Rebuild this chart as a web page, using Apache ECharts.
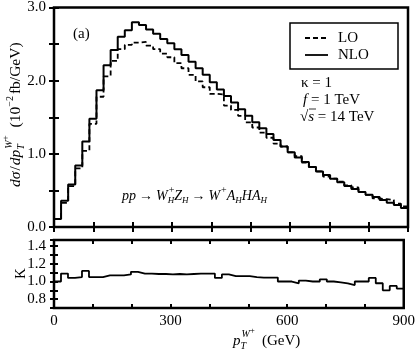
<!DOCTYPE html>
<html>
<head>
<meta charset="utf-8">
<script src="https://cdn.jsdelivr.net/npm/echarts@6/dist/echarts.min.js"></script>
<style>
  html, body { margin: 0; padding: 0; background: #fff; }
  #chart { width: 418px; height: 356px; }
</style>
</head>
<body>
<div id="chart"></div>
<script>
// histogram bins of 18 GeV from 0 to 900 GeV
const BIN_GEV = 18;

// d sigma / d pT (10^-2 fb/GeV)
const NLO = [
    0.11, 0.36, 0.58, 0.84, 1.17, 1.48, 1.87, 2.21, 2.42, 2.60,
    2.69, 2.80, 2.76, 2.70, 2.64, 2.57, 2.51, 2.43, 2.35, 2.26,
    2.17, 2.08, 1.98, 1.88, 1.79, 1.70, 1.61, 1.52, 1.43, 1.35,
    1.27, 1.19, 1.10, 1.02, 0.95, 0.89, 0.82, 0.76, 0.71, 0.66,
    0.61, 0.56, 0.52, 0.48, 0.44, 0.41, 0.37, 0.33, 0.30, 0.26,
];
const LO = [
    0.11, 0.33, 0.56, 0.80, 1.04, 1.41, 1.78, 2.06, 2.27, 2.43,
    2.49, 2.52, 2.53, 2.48, 2.43, 2.37, 2.32, 2.24, 2.17, 2.08,
    1.99, 1.91, 1.82, 1.81, 1.66, 1.60, 1.52, 1.43, 1.36, 1.29,
    1.22, 1.14, 1.10, 1.02, 0.97, 0.88, 0.82, 0.76, 0.69, 0.66,
    0.62, 0.57, 0.54, 0.48, 0.44, 0.39, 0.38, 0.37, 0.32, 0.28,
];
// K factor panel
const K = [
    1.00, 1.09, 1.04, 1.05, 1.12, 1.05, 1.05, 1.07, 1.07, 1.07,
    1.08, 1.11, 1.09, 1.09, 1.085, 1.085, 1.08, 1.085, 1.08, 1.085,
    1.09, 1.09, 1.09, 1.04, 1.08, 1.06, 1.06, 1.06, 1.05, 1.045,
    1.045, 1.045, 1.00, 1.00, 0.98, 1.01, 1.00, 1.00, 1.025, 1.00,
    0.99, 0.98, 0.96, 1.00, 1.00, 1.04, 0.98, 0.90, 0.95, 0.92,
];

const X_LABELS = [0, 300, 600, 900];
const Y_LABELS = [0, 1, 2, 3];
const K_LABELS = [0.8, 1.0, 1.2, 1.4];
const LEGEND = ["LO", "NLO"];

const SERIF = '"Liberation Serif", "DejaVu Serif", serif';

// bin edges -> step points, last edge repeats the last value
function hist(vals) {
    const pts = vals.map((v, i) => [i * BIN_GEV, v]);
    pts.push([vals.length * BIN_GEV, vals[vals.length - 1]]);
    return pts;
}

// text pieces laid out along a baseline (sub/superscripts)
const _ctx = document.createElement("canvas").getContext("2d");
function font_of(size, italic) {
    return (italic ? "italic " : "") + size + "px " + SERIF;
}
function run(parts, x, y, rotation, base) {
    let cx = 0;
    const children = [];
    for (const p of parts) {
        if (p.gap) { cx += p.gap; continue; }
        const size = p.size || base || 15;
        children.push({
            type: "text",
            x: cx + (p.dx || 0),
            y: p.dy || 0,
            style: {
                text: p.t,
                font: font_of(size, p.it),
                fill: "#000",
                align: "left",
                verticalAlign: "middle",
            },
        });
        _ctx.font = font_of(size, p.it);
        if (!p.keep) cx += _ctx.measureText(p.t).width + (p.dx || 0);
    }
    return { type: "group", x, y, rotation: rotation || 0, children };
}

const axis_font = { fontFamily: SERIF, fontSize: 15, color: "#000" };
const tick = (len) => ({ inside: true, length: len, lineStyle: { color: "#000", width: 2 } });

function x_axis(grid, pos, labels) {
    return {
        type: "value", gridIndex: grid, position: pos, min: 0, max: 900, interval: 100,
        axisLine: { show: false }, splitLine: { show: false },
        axisTick: tick(grid === 0 ? 5 : 4),
        axisLabel: labels
            ? { ...axis_font, margin: 6, formatter: (v) => (X_LABELS.includes(v) ? String(v) : "") }
            : { show: false },
    };
}

// legend box drawn by hand: dashed LO, solid NLO
function legend_box(x, y) {
    const items = [];
    items.push({
        type: "rect", shape: { x, y, width: 108, height: 46 },
        style: { fill: "#fff", stroke: "#000", lineWidth: 1.5 }, z: 10,
    });
    LEGEND.forEach((name, i) => {
        const ly = y + 15 + i * 17;
        items.push({
            type: "line", shape: { x1: x + 15, y1: ly, x2: x + 38, y2: ly }, z: 11,
            style: { stroke: "#000", lineWidth: 1.8, lineDash: i === 0 ? [5, 3] : null },
        });
        items.push({
            type: "text", x: x + 48, y: ly, z: 11,
            style: { text: name, font: font_of(15), fill: "#000", verticalAlign: "middle" },
        });
    });
    return items;
}

const chart = echarts.init(document.getElementById("chart"), null, { renderer: "canvas" });

chart.setOption({
    animation: false,
    backgroundColor: "#fff",
    grid: [
        { left: 54, right: 10, top: 4, height: 223, show: true, borderColor: "#000", borderWidth: 2.5 },
        { left: 54, right: 10, top: 240, height: 68, show: true, borderColor: "#000", borderWidth: 2.5 },
    ],
    xAxis: [x_axis(0, "bottom", false), x_axis(0, "top", false), x_axis(1, "bottom", true), x_axis(1, "top", false)],
    yAxis: [
        {
            type: "value", gridIndex: 0, position: "left", min: 0, max: 3, interval: 0.5,
            axisLine: { show: false }, splitLine: { show: false }, axisTick: tick(5),
            axisLabel: { ...axis_font, margin: 8, formatter: (v) => (Y_LABELS.includes(v) ? v.toFixed(1) : "") },
        },
        {
            type: "value", gridIndex: 0, position: "right", min: 0, max: 3, interval: 0.5,
            axisLine: { show: false }, splitLine: { show: false }, axisTick: tick(5), axisLabel: { show: false },
        },
        {
            type: "value", gridIndex: 1, position: "left", min: 0.7, max: 1.47, interval: 0.1,
            axisLine: { show: false }, splitLine: { show: false }, axisTick: tick(4),
            axisLabel: {
                ...axis_font, margin: 8,
                formatter: (v) => {
                    const r = Math.round(v * 10) / 10;
                    return K_LABELS.some((k) => Math.abs(k - r) < 1e-6) && Math.abs(v - r) < 1e-6 ? r.toFixed(1) : "";
                },
            },
        },
        {
            type: "value", gridIndex: 1, position: "right", min: 0.7, max: 1.47, interval: 0.1,
            axisLine: { show: false }, splitLine: { show: false }, axisTick: tick(4), axisLabel: { show: false },
        },
    ],
    series: [
        {
            name: "LO", type: "line", step: "end", xAxisIndex: 0, yAxisIndex: 0,
            data: hist(LO), showSymbol: false, symbol: "none", color: "#000",
            lineStyle: { color: "#000", width: 1.8, type: [5, 3] },
        },
        {
            name: "NLO", type: "line", step: "end", xAxisIndex: 0, yAxisIndex: 0,
            data: hist(NLO), showSymbol: false, symbol: "none", color: "#000",
            lineStyle: { color: "#000", width: 2 },
        },
        {
            name: "K", type: "line", step: "end", xAxisIndex: 2, yAxisIndex: 2,
            data: hist(K), showSymbol: false, symbol: "none", color: "#000",
            lineStyle: { color: "#000", width: 1.8 },
        },
    ],
    graphic: [
        ...legend_box(290, 23),
        run([{ t: "(a)" }], 73, 34),
        run([{ t: "κ = 1" }], 301, 83),
        run([{ t: "f", it: true }, { t: " = 1 TeV" }], 303, 100),
        run([{ t: "√" }, { t: "s", it: true }, { t: " = 14 TeV" }], 300, 117),
        {
            type: "line", shape: { x1: 309, y1: 109, x2: 316, y2: 109 },
            style: { stroke: "#000", lineWidth: 0.8 },
        },
        run([
            { t: "pp", it: true }, { gap: 3 }, { t: "→" }, { gap: 3 },
            { t: "W", it: true }, { t: "+", size: 10, dy: -6, dx: 1, keep: true }, { t: "H", size: 9, it: true, dy: 5 },
            { t: "Z", it: true }, { t: "H", size: 9, it: true, dy: 5 }, { gap: 3 },
            { t: "→" }, { gap: 3 },
            { t: "W", it: true }, { t: "+", size: 10, dy: -6, dx: 1 },
            { t: "A", it: true }, { t: "H", size: 9, it: true, dy: 5 },
            { t: "H", it: true },
            { t: "A", it: true }, { t: "H", size: 9, it: true, dy: 5 },
        ], 122, 196, 0, 14),
        // y title, reads bottom to top
        run([
            { t: "dσ", it: true }, { gap: 1 }, { t: "/" }, { gap: 1 }, { t: "dp", it: true },
            { t: "T", size: 10, it: true, dy: 5, keep: true },
            { t: "W", size: 10, it: true, dy: -7, dx: 1 }, { t: "+", size: 9, dy: -10 },
            { gap: 8 },
            { t: "(10" }, { t: "−2", size: 10, dy: -6 }, { gap: 2 }, { t: "fb/GeV)" },
        ], 16, 187, Math.PI / 2, 15.5),
        run([{ t: "K" }], 21, 279, Math.PI / 2),
        // x title
        run([
            { t: "p", it: true },
            { t: "T", size: 10, it: true, dy: 5, keep: true },
            { t: "W", size: 10, it: true, dy: -7, dx: 1 }, { t: "+", size: 9, dy: -10 },
            { gap: 7 }, { t: "(GeV)" },
        ], 233, 341),
    ],
});
</script>
</body>
</html>
